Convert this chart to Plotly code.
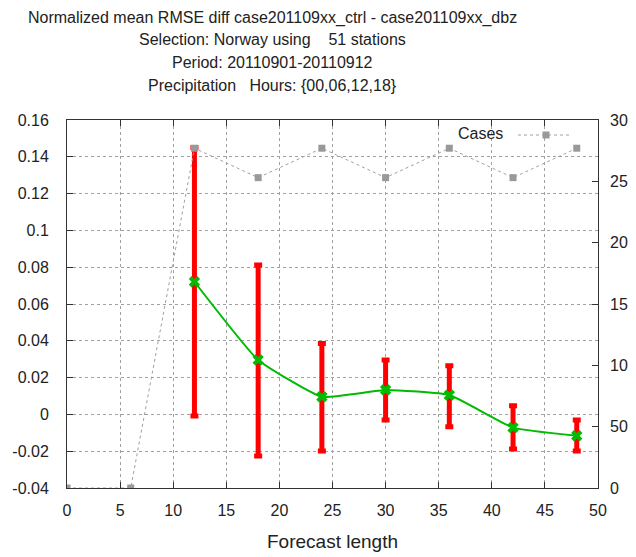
import plotly.graph_objects as go

# Data
forecast = [12, 18, 24, 30, 36, 42, 48]
rmse_diff = [0.0721, 0.0296, 0.0096, 0.0133, 0.0105, -0.0072, -0.0116]
err_top = [0.145, 0.0812, 0.0386, 0.0296, 0.0265, 0.0047, -0.003]
err_bottom = [-0.0009, -0.0226, -0.0199, -0.003, -0.0067, -0.0188, -0.0199]

case_x = [0, 6, 12, 18, 24, 30, 36, 42, 48]
cases = [0, 0, 27.7, 25.3, 27.7, 25.3, 27.7, 25.3, 27.7]

x_ticks = [0, 5, 10, 15, 20, 25, 30, 35, 40, 45, 50]
y_ticks = [-0.04, -0.02, 0, 0.02, 0.04, 0.06, 0.08, 0.1, 0.12, 0.14, 0.16]
y_tick_text = ["-0.04", "-0.02", "0", "0.02", "0.04", "0.06", "0.08", "0.1", "0.12", "0.14", "0.16"]
y2_ticks = [0, 5, 10, 15, 20, 25, 30]
y2_tick_text = ["0", "50", "10", "15", "20", "25", "30"]

title_lines = [
    "Normalized mean RMSE diff case201109xx_ctrl - case201109xx_dbz",
    "Selection: Norway using    51 stations",
    "Period: 20110901-20110912",
    "Precipitation   Hours: {00,06,12,18}",
]

FONT = "Liberation Sans, Arial, sans-serif"
TXT = "#222222"
GRID = "#a0a0a0"

# page body has an 8px margin; compensate so the figure lands like the reference
OFF = 8
W, H = 636 - OFF, 557 - OFF
PL, PR, PT, PB = 67 - OFF, 598 - OFF, 120 - OFF, 488 - OFF   # plot box in figure px
L, R, T, B = PL, W - PR, PT, H - PB

plus = [t - v for t, v in zip(err_top, rmse_diff)]
minus = [v - b for v, b in zip(rmse_diff, err_bottom)]

fig = go.Figure()

fig.add_trace(go.Scatter(
    x=forecast, y=rmse_diff, mode="lines+markers",
    line=dict(color="#00bb00", width=2, shape="spline", smoothing=0.4),
    marker=dict(symbol="x", size=10, color="#00bb00"),
    error_y=dict(type="data", array=plus, arrayminus=minus, symmetric=False,
                 color="#ff0000", thickness=5, width=4),
    showlegend=False, name="RMSE diff",
))

fig.add_trace(go.Scatter(
    x=case_x, y=cases, yaxis="y2", mode="lines+markers",
    line=dict(color=GRID, width=1, dash="dot"),
    marker=dict(symbol="square", size=7, color="#999999"),
    showlegend=False, name="Cases",
))

fig.update_layout(
    width=W, height=H,
    margin=dict(l=L, r=R, t=T, b=B, autoexpand=False),
    paper_bgcolor="white", plot_bgcolor="white",
    font=dict(family=FONT, size=16, color=TXT),
    xaxis=dict(
        range=[0, 50], tickvals=x_ticks, ticks="inside", ticklen=6,
        tickcolor="#333", showline=True, linecolor="#333", linewidth=1,
        mirror="ticks", showgrid=True, gridcolor=GRID, griddash="dot",
        gridwidth=1, zeroline=False, ticklabelstandoff=8,
        title=dict(text="Forecast length", standoff=16),
        tickfont=dict(size=16, color=TXT), automargin=False,
    ),
    yaxis=dict(
        range=[-0.04, 0.16], tickvals=y_ticks, ticktext=y_tick_text,
        ticks="inside", ticklen=6, tickcolor="#333",
        showline=True, linecolor="#333", linewidth=1, mirror=True,
        showgrid=True, gridcolor=GRID, griddash="dot", gridwidth=1,
        zeroline=False, tickfont=dict(size=16, color=TXT),
        ticklabelstandoff=14, automargin=False,
    ),
    yaxis2=dict(
        range=[0, 30], tickvals=y2_ticks, ticktext=y2_tick_text,
        overlaying="y", side="right", ticks="inside", ticklen=6,
        tickcolor="#333", showgrid=False, zeroline=False,
        showline=False, tickfont=dict(size=16, color=TXT),
        ticklabelstandoff=11, automargin=False,
    ),
)

pw, ph = PR - PL, PB - PT
def px(xp):
    return (xp - OFF - PL) / pw
def py(yp):
    return (PB - (yp - OFF)) / ph

# Title lines (reference pixel positions; first nudged to stay inside the figure)
title_y = [17.5, 39.5, 62.5, 85.5]
for text, yp in zip(title_lines, title_y):
    fig.add_annotation(
        text=text, xref="paper", yref="paper",
        x=px(272), y=py(yp),
        showarrow=False, xanchor="center", yanchor="middle",
        font=dict(family=FONT, size=16, color=TXT),
    )

# Legend ("Cases" key drawn gnuplot style: text then sample)
fig.add_annotation(
    text="Cases", xref="paper", yref="paper", x=px(505), y=py(134),
    showarrow=False, xanchor="right", yanchor="middle",
    font=dict(family=FONT, size=16, color=TXT),
)
fig.add_shape(type="line", xref="paper", yref="paper",
              x0=px(518), x1=px(572), y0=py(135), y1=py(135),
              line=dict(color=GRID, width=1, dash="dot"))
fig.add_shape(type="rect", xref="paper", yref="paper",
              x0=px(542.5), x1=px(549.5), y0=py(131.5), y1=py(138.5),
              fillcolor="#999999", line=dict(width=0))

fig.write_html("out.html")
